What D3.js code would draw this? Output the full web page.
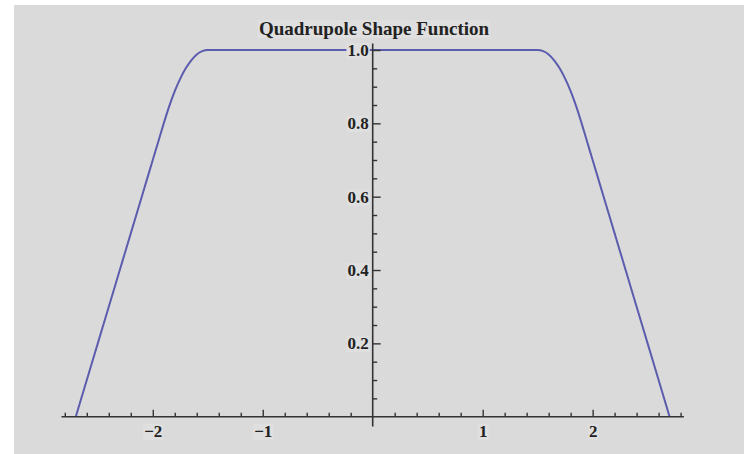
<!DOCTYPE html>
<html>
<head>
<meta charset="utf-8">
<script src="https://cdn.jsdelivr.net/npm/d3@7"></script>
<style>
  html, body { margin: 0; padding: 0; background: #ffffff; }
  svg { display: block; }
  text { font-family: "Liberation Serif", "DejaVu Serif", serif; fill: #222; }
</style>
</head>
<body>
<svg id="chart" width="748" height="454"></svg>
<script>
// ---- data ----
const title = "Quadrupole Shape Function";
const xValues = [-2.7, -2.6, -2.5, -2.4, -2.3, -2.2, -2.1, -2.0, -1.95, -1.9, -1.85, -1.8, -1.75, -1.7, -1.65, -1.6, -1.55, -1.5,
                 -1.0, 0.0, 1.0,
                 1.5, 1.55, 1.6, 1.65, 1.7, 1.75, 1.8, 1.85, 1.9, 1.95, 2.0, 2.1, 2.2, 2.3, 2.4, 2.5, 2.6, 2.7];
const yValues = [0.0, 0.10, 0.20, 0.30, 0.40, 0.50, 0.60, 0.70, 0.75, 0.80, 0.847, 0.888, 0.922, 0.95, 0.972, 0.988, 0.997, 1.0,
                 1.0, 1.0, 1.0,
                 1.0, 0.997, 0.988, 0.972, 0.95, 0.922, 0.888, 0.847, 0.80, 0.75, 0.70, 0.60, 0.50, 0.40, 0.30, 0.20, 0.10, 0.0];
const xMajorTicks = [-2, -1, 1, 2];
const xMinorTicks = [-2.8, -2.6, -2.4, -2.2, -1.8, -1.6, -1.4, -1.2, -0.8, -0.6, -0.4, -0.2,
                     0.2, 0.4, 0.6, 0.8, 1.2, 1.4, 1.6, 1.8, 2.2, 2.4, 2.6, 2.8];
const yMajorTicks = [0.2, 0.4, 0.6, 0.8, 1.0];
const yMinorTicks = [0.05, 0.1, 0.15, 0.25, 0.3, 0.35, 0.45, 0.5, 0.55, 0.65, 0.7, 0.75, 0.85, 0.9, 0.95];
const xLabels = ["−2", "−1", "1", "2"];
const yLabels = ["0.2", "0.4", "0.6", "0.8", "1.0"];

// ---- layout ----
const svg = d3.select("#chart");
const bg = "#dadada", labelBg = "#dfdfdf";
svg.append("rect").attr("x", 14).attr("y", 5).attr("width", 730).attr("height", 449).attr("fill", bg);

const x = d3.scaleLinear().domain([-2.82, 2.82]).range([62.6, 682.8]);
const y = d3.scaleLinear().domain([0, 1]).range([416.7, 50]);
const axisColor = "#333333";

// curve
const line = d3.line()
  .x((d, i) => x(xValues[i]))
  .y((d, i) => y(yValues[i]))
  .curve(d3.curveMonotoneX);
svg.append("path").datum(yValues).attr("d", line)
  .attr("fill", "none").attr("stroke", "#5c5cae").attr("stroke-width", 2)
  .attr("stroke-linejoin", "round");

// axis lines
svg.append("line").attr("x1", x(-2.83)).attr("x2", x(2.83)).attr("y1", y(0)).attr("y2", y(0))
  .attr("stroke", axisColor).attr("stroke-width", 1.6);
svg.append("line").attr("x1", x(0)).attr("x2", x(0)).attr("y1", y(1.018)).attr("y2", y(-0.027))
  .attr("stroke", axisColor).attr("stroke-width", 1.6);

const gxMinor = svg.append("g").attr("transform", `translate(0,${y(0)})`)
  .call(d3.axisBottom(x).tickValues(xMinorTicks).tickSize(-4).tickFormat(""));
const gx = svg.append("g").attr("transform", `translate(0,${y(0)})`)
  .call(d3.axisBottom(x).tickValues(xMajorTicks).tickSize(-7).tickPadding(8)
    .tickFormat((d, i) => xLabels[i]));
const gyMinor = svg.append("g").attr("transform", `translate(${x(0)},0)`)
  .call(d3.axisLeft(y).tickValues(yMinorTicks).tickSize(-4.5).tickFormat(""));
const gy = svg.append("g").attr("transform", `translate(${x(0)},0)`)
  .call(d3.axisLeft(y).tickValues(yMajorTicks).tickSize(-8).tickPadding(4)
    .tickFormat((d, i) => yLabels[i]));

[gxMinor, gx, gyMinor, gy].forEach(g => {
  g.select(".domain").remove();
  g.selectAll(".tick line").attr("stroke", axisColor).attr("stroke-width", 1.4);
  g.selectAll("text").attr("font-size", 17).attr("font-weight", "bold")
    .attr("font-family", "'Liberation Serif', 'DejaVu Serif', serif").attr("fill", "#1a1a1a");
});

// light boxes behind labels (hide the curve like the reference)
[gx, gy].forEach(g => {
  g.selectAll(".tick text").each(function() {
    const b = this.getBBox();
    const node = this;
    d3.select(this.parentNode).insert("rect", () => node)
      .attr("x", b.x - 1).attr("y", b.y + 2).attr("width", b.width + 2).attr("height", b.height - 3)
      .attr("fill", labelBg);
  });
});

// title
const t = svg.append("text").attr("x", 374).attr("y", 35).attr("text-anchor", "middle")
  .attr("font-size", 19).attr("font-weight", "bold").attr("fill", "#1a1a1a").text(title);
const tb = t.node().getBBox();
svg.insert("rect", () => t.node()).attr("x", tb.x - 1).attr("y", tb.y + 2).attr("width", tb.width + 2).attr("height", tb.height - 3)
  .attr("fill", labelBg);
</script>
</body>
</html>
